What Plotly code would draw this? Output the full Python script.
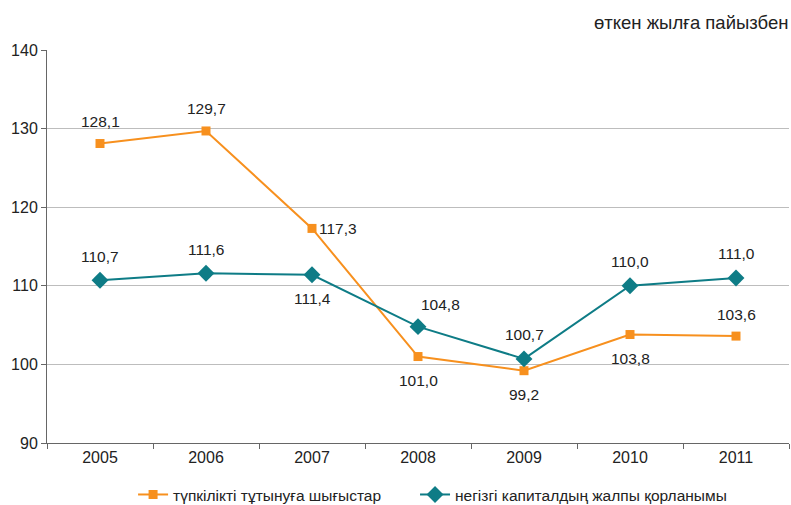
import plotly.graph_objects as go

years = ["2005", "2006", "2007", "2008", "2009", "2010", "2011"]
consumption = [128.1, 129.7, 117.3, 101.0, 99.2, 103.8, 103.6]
capital = [110.7, 111.6, 111.4, 104.8, 100.7, 110.0, 111.0]
name_cons = "түпкілікті тұтынуға шығыстар"
name_cap = "негізгі капиталдың жалпы қорланымы"
unit_title = "өткен жылға пайызбен"

# label placement: (xshift, yshift)
cons_pos = [(0, 22), (0, 22), (26, 0), (0, -24), (0, -24), (0, -24), (0, 22)]
cap_pos = [(0, 24), (0, 24), (0, -24), (22, 22), (0, 24), (0, 24), (0, 24)]

ORANGE = "#F7901E"
TEAL = "#0E7C86"
FONT = "Liberation Sans, Arial, sans-serif"

fig = go.Figure()
fig.add_trace(go.Scatter(x=years, y=consumption, name=name_cons, mode="lines+markers",
                         line=dict(color=ORANGE, width=2),
                         marker=dict(symbol="square", size=9, color=ORANGE),
                         legend="legend", hoverinfo="skip"))
fig.add_trace(go.Scatter(x=years, y=capital, name=name_cap, mode="lines+markers",
                         line=dict(color=TEAL, width=2),
                         marker=dict(symbol="diamond", size=13, color=TEAL),
                         legend="legend2", hoverinfo="skip"))

def fmt(v):
    return f"{v:.1f}".replace(".", ",")

for ys, pos in ((consumption, cons_pos), (capital, cap_pos)):
    for i, (y, (dx, dy)) in enumerate(zip(ys, pos)):
        fig.add_annotation(x=i, y=y, xref="x", yref="y", text=fmt(y), showarrow=False,
                           xshift=dx, yshift=dy,
                           font=dict(size=15.5, color="#222222", family=FONT))

fig.add_annotation(xref="paper", yref="paper", x=1.0, y=1.0, yshift=28, xshift=1,
                   xanchor="right", yanchor="middle", showarrow=False,
                   text=unit_title, font=dict(size=18.5, color="#222222", family=FONT))

legend_common = dict(orientation="h", yref="container", y=0.02, yanchor="middle",
                     xanchor="left", font=dict(size=15.5, color="#222222"),
                     bgcolor="rgba(0,0,0,0)")

fig.update_layout(
    width=791, height=505,
    margin=dict(l=47, r=2, t=50, b=62, autoexpand=False),
    paper_bgcolor="white", plot_bgcolor="white",
    font=dict(family=FONT, size=16, color="#222222"),
    showlegend=True,
    hovermode=False,
    legend=dict(x=0.116, **legend_common),
    legend2=dict(x=0.496, **legend_common),
    xaxis=dict(type="category", range=[-0.5, 6.5], showgrid=False,
               showline=True, linecolor="#666666", linewidth=1,
               ticks="outside", tickson="boundaries", ticklen=5, tickcolor="#666666",
               tickfont=dict(size=16)),
    yaxis=dict(range=[90, 140], dtick=10, showgrid=True, gridcolor="#BDBDBD",
               gridwidth=1, zeroline=False, showline=True, linecolor="#666666",
               linewidth=1, ticks="outside", ticklen=5, tickcolor="#666666",
               tickfont=dict(size=16)),
)

fig.write_html("out.html", config={"displayModeBar": False},
               post_script="document.body.style.margin='0';document.body.style.overflow='hidden';")
